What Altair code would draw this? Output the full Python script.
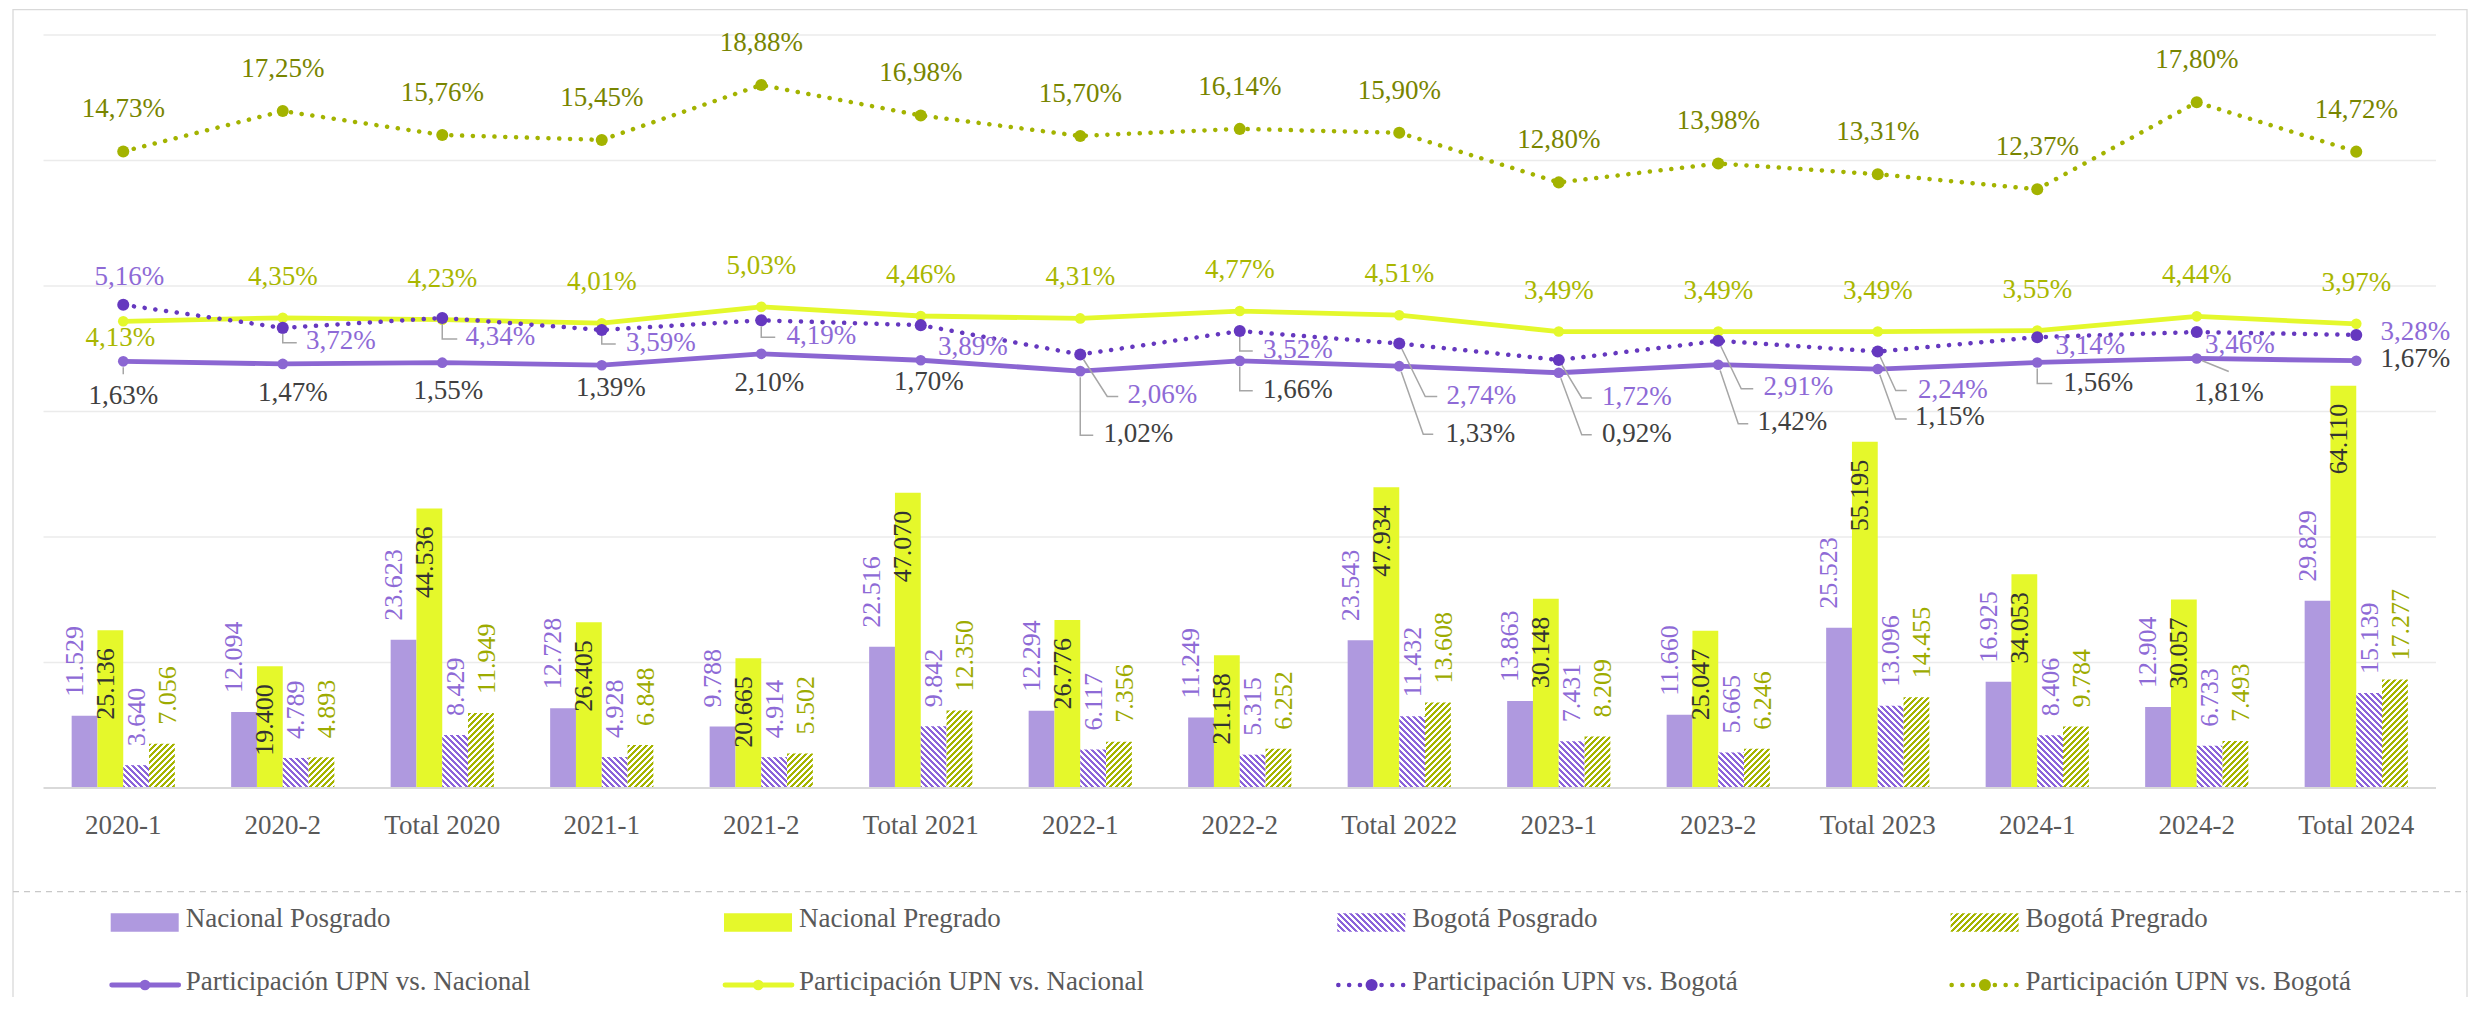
import altair as alt

# ------------------------------------------------------------------ data
categories = ["2020-1", "2020-2", "Total 2020", "2021-1", "2021-2", "Total 2021",
              "2022-1", "2022-2", "Total 2022", "2023-1", "2023-2", "Total 2023",
              "2024-1", "2024-2", "Total 2024"]

nacional_posgrado = [11529, 12094, 23623, 12728, 9788, 22516, 12294, 11249, 23543,
                     13863, 11660, 25523, 16925, 12904, 29829]
nacional_pregrado = [25136, 19400, 44536, 26405, 20665, 47070, 26776, 21158, 47934,
                     30148, 25047, 55195, 34053, 30057, 64110]
bogota_posgrado = [3640, 4789, 8429, 4928, 4914, 9842, 6117, 5315, 11432,
                   7431, 5665, 13096, 8406, 6733, 15139]
bogota_pregrado = [7056, 4893, 11949, 6848, 5502, 12350, 7356, 6252, 13608,
                   8209, 6246, 14455, 9784, 7493, 17277]

# participation (%)
part_nac_posgrado = [1.63, 1.47, 1.55, 1.39, 2.10, 1.70, 1.02, 1.66, 1.33, 0.92, 1.42, 1.15, 1.56, 1.81, 1.67]
part_nac_pregrado = [4.13, 4.35, 4.23, 4.01, 5.03, 4.46, 4.31, 4.77, 4.51, 3.49, 3.49, 3.49, 3.55, 4.44, 3.97]
part_bog_posgrado = [5.16, 3.72, 4.34, 3.59, 4.19, 3.89, 2.06, 3.52, 2.74, 1.72, 2.91, 2.24, 3.14, 3.46, 3.28]
part_bog_pregrado = [14.73, 17.25, 15.76, 15.45, 18.88, 16.98, 15.70, 16.14, 15.90, 12.80, 13.98, 13.31, 12.37, 17.80, 14.72]

bar_series = ["Nacional Posgrado", "Nacional Pregrado", "Bogotá Posgrado", "Bogotá Pregrado"]
line_series = ["Participación UPN vs. Nacional", "Participación UPN vs. Nacional",
               "Participación UPN vs. Bogotá", "Participación UPN vs. Bogotá"]
bar_gridlines = [20000, 40000, 60000, 80000, 100000, 120000]

# ------------------------------------------------------------------ layout / style
FONT = "Liberation Serif"
SCREEN_LEFT, SCREEN_TOP = 13.0, 9.0
VIEW_W, VIEW_H = 2454, 988
PLOT_X0_S = 43.5
STEP = 159.5
PLOT_TOP_S, PLOT_BOTTOM_S = 35.0, 788.0
BAR_AXIS_MAX = 120000.0
PCT_MIN, PCT_MAX = -25.0, 22.0
BAR_W = 25.8


def vx(sx):
    return sx - SCREEN_LEFT


def vy(sy):
    return sy - SCREEN_TOP


n = len(categories)
plot_top, plot_bottom = vy(PLOT_TOP_S), vy(PLOT_BOTTOM_S)
plot_h = plot_bottom - plot_top
bar_per_px = BAR_AXIS_MAX / plot_h
pct_per_px = (PCT_MAX - PCT_MIN) / plot_h
bar_domain = [-(VIEW_H - plot_bottom) * bar_per_px, BAR_AXIS_MAX + plot_top * bar_per_px]
pct_domain = [PCT_MIN - (VIEW_H - plot_bottom) * pct_per_px, PCT_MAX + plot_top * pct_per_px]
plot_x0 = vx(PLOT_X0_S)
idx_domain = [-plot_x0 / STEP - 0.5, (VIEW_W - plot_x0) / STEP - 0.5]

# band scale: bandwidth = 6 bar widths (4 bars + one bar of outer padding each side)
band_w = 6 * BAR_W
p_in = 1 - band_w / STEP
p_out = (VIEW_W / STEP - n + p_in) / 2
first_band = plot_x0 + (STEP - band_w) / 2
x_align = first_band / (VIEW_W - STEP * (n - p_in))

x_band = alt.Scale(domain=categories, paddingInner=p_in, paddingOuter=p_out, align=x_align)
off_scale = alt.Scale(domain=bar_series, paddingInner=0, paddingOuter=1)
bar_y = alt.Scale(domain=bar_domain, nice=False, zero=False)
pct_y = alt.Scale(domain=pct_domain, nice=False, zero=False)
idx_x = alt.Scale(domain=idx_domain, nice=False, zero=False)

C_NAC_POS = "#AF99DF"
C_NAC_PRE = "#E5F82B"
C_BOG_POS = "#8C64DA"
C_BOG_PRE = "#A5B400"
GRAY_TXT = "#595959"


def hatch(w, h, color, rising, period=6.0, bg="#FFFFFF"):
    """Diagonal stripes (45deg on screen) as a linear gradient for a w x h box."""
    h = max(h, 0.5)
    L = w + h
    s = L * w / (w * w + h * h)
    if rising:
        x1, y1, x2, y2 = 0, 0, s, s * h / w
    else:
        x1, y1, x2, y2 = 0, 1, s, 1 - s * h / w
    st = period / L
    stops = []
    t = 0.0
    while t < 1:
        a = t
        b = min(t + st / 2, 1)
        c = min(t + st, 1)
        stops += [{"offset": a, "color": color}, {"offset": b, "color": color},
                  {"offset": b, "color": bg}, {"offset": c, "color": bg}]
        t += st
    return {"gradient": "linear", "x1": x1, "y1": y1, "x2": x2, "y2": y2, "stops": stops}


def num_text(v):
    return f"{v:,}".replace(",", ".")


def pct_text(v):
    return f"{v:.2f}".replace(".", ",") + "%"


# ------------------------------------------------------------------ bars
bar_values = [nacional_posgrado, nacional_pregrado, bogota_posgrado, bogota_pregrado]
bar_paint = [C_NAC_POS, C_NAC_PRE, (C_BOG_POS, False), (C_BOG_PRE, True)]
bar_label_color = ["#8E6AD6", "#333333", "#8E6AD6", "#9DAB00"]

bar_records = []
for s, (name, vals) in enumerate(zip(bar_series, bar_values)):
    for c, v in zip(categories, vals):
        p = bar_paint[s]
        paint = p if isinstance(p, str) else hatch(BAR_W, v / bar_per_px, p[0], p[1])
        bar_records.append({"cat": c, "series": name, "value": v, "paint": paint,
                            "label": num_text(v), "lc": bar_label_color[s]})

X_CAT = alt.X("cat:N", scale=x_band, axis=None)
X_OFF = alt.XOffset("series:N", scale=off_scale)
Y_BAR = alt.Y("value:Q", scale=bar_y, axis=None)

bars = alt.Chart(alt.Data(values=bar_records)).mark_bar().encode(
    x=alt.X("cat:N", scale=x_band, title=None,
            axis=alt.Axis(orient="bottom", offset=plot_bottom - VIEW_H, domain=False, ticks=False,
                          tickSize=0, grid=False, labelAngle=0, labelFont=FONT, labelFontSize=27,
                          labelColor=GRAY_TXT, labelPadding=24, labelOverlap=False)),
    xOffset=X_OFF,
    y=Y_BAR,
    y2=alt.datum(0),
    fill=alt.Fill("paint:N", scale=None, legend=None),
)

bar_lab_out = alt.Chart(alt.Data(values=[r for r in bar_records if r["series"] != bar_series[1]])).mark_text(
    angle=270, align="left", baseline="middle", dx=19, dy=-2, font=FONT, fontSize=26
).encode(x=X_CAT, xOffset=X_OFF, y=Y_BAR, text="label:N",
         color=alt.Color("lc:N", scale=None, legend=None))

bar_lab_in = alt.Chart(alt.Data(values=[r for r in bar_records if r["series"] == bar_series[1]])).mark_text(
    angle=270, align="right", baseline="middle", dx=-18, dy=-2, font=FONT, fontSize=26
).encode(x=X_CAT, xOffset=X_OFF, y=Y_BAR, text="label:N",
         color=alt.Color("lc:N", scale=None, legend=None))

# ------------------------------------------------------------------ grid, baseline, frame
grid = alt.Chart(alt.Data(values=[{"g": g} for g in bar_gridlines])).mark_rule(
    color="#EBEBEB", strokeWidth=1.3
).encode(y=alt.Y("g:Q", scale=bar_y, axis=None),
         x=alt.XDatum(-0.5, type="quantitative", scale=idx_x, axis=None),
         x2=alt.X2Datum(n - 0.5))

baseline = alt.Chart(alt.Data(values=[{"g": 0}])).mark_rule(
    color="#D9D9D9", strokeWidth=2.2
).encode(y=alt.Y("g:Q", scale=bar_y, axis=None),
         x=alt.XDatum(-0.5, type="quantitative", scale=idx_x, axis=None),
         x2=alt.X2Datum(n - 0.5))

one = alt.Data(values=[{}])
frame_top = alt.Chart(one).mark_rule(color="#D9D9D9", strokeWidth=1.3).encode(
    x=alt.value(0), x2=alt.value(VIEW_W), y=alt.value(0.7))
frame_left = alt.Chart(one).mark_rule(color="#D9D9D9", strokeWidth=1.3).encode(
    x=alt.value(0), y=alt.value(0), y2=alt.value(VIEW_H))
frame_right = alt.Chart(one).mark_rule(color="#D9D9D9", strokeWidth=1.3).encode(
    x=alt.value(VIEW_W), y=alt.value(0), y2=alt.value(VIEW_H))
separator = alt.Chart(one).mark_rule(color="#C8C8C8", strokeWidth=1.3, strokeDash=[6, 5]).encode(
    x=alt.value(0), x2=alt.value(VIEW_W), y=alt.value(vy(891.7)))

# ------------------------------------------------------------------ lines
DOT = [0.1, 10.7]
lines_spec = [
    dict(vals=part_nac_posgrado, color="#8B66D2", width=4.8, dash=None, size=113, lcolor="#404040",
         offs=[(0, 35), (10, 29), (6, 28), (9, 23), (8, 29), (8, 22), (58, 63), (58, 29), (81, 68),
               (78, 61), (74, 57), (72, 48), (61, 21), (32, 35), (59, -2)],
         leaders={0: [(0, 0), (0, 13)], 6: [(0, 0), (0, 64), (13, 64)], 7: [(0, 0), (0, 30), (13, 30)],
                  8: [(0, 0), (24, 68), (34, 68)], 9: [(0, 0), (23, 62), (33, 62)],
                  10: [(0, 0), (20, 59), (30, 59)], 11: [(0, 0), (18, 50), (29, 50)],
                  12: [(0, 0), (0, 21), (15, 21)], 13: [(0, 0), (32, 13)]}),
    dict(vals=part_nac_pregrado, color="#E4F82C", width=4.8, dash=None, size=113, lcolor="#A9B700",
         offs=[(-3, 17)] + [(0, -41)] * 14, leaders={}),
    dict(vals=part_bog_posgrado, color="#6538BF", width=4.5, dash=DOT, size=145, lcolor="#8E6AD6",
         offs=[(6, -28), (58, 13), (58, 19), (59, 13), (60, 16), (52, 22), (82, 41), (58, 19), (82, 52),
               (78, 37), (80, 46), (75, 38), (53, 9), (43, 13), (59, -3)],
         leaders={1: [(0, 0), (0, 15), (14, 15)], 2: [(0, 0), (0, 21), (15, 21)],
                  3: [(0, 0), (0, 14), (14, 14)], 4: [(0, 0), (0, 17), (14, 17)],
                  6: [(0, 0), (27, 42), (38, 42)], 7: [(0, 0), (0, 20), (13, 20)],
                  8: [(0, 0), (26, 53), (38, 53)], 9: [(0, 0), (23, 38), (33, 38)],
                  10: [(0, 0), (23, 48), (35, 48)], 11: [(0, 0), (18, 39), (29, 39)]}),
    dict(vals=part_bog_pregrado, color="#A3B300", width=4.5, dash=DOT, size=145, lcolor="#788500",
         offs=[(0, -42)] * 15, leaders={}),
]


def X_Q(f):
    return alt.X(f"{f}:Q", scale=idx_x, axis=None)


def Y_Q(f):
    return alt.Y(f"{f}:Q", scale=pct_y, axis=None)


line_layers = []
label_records = []
leader_records = []
for k, spec in enumerate(lines_spec):
    pts = [{"idx": i, "v": v} for i, v in enumerate(spec["vals"])]
    lkw = dict(color=spec["color"], strokeWidth=spec["width"], strokeCap="round", strokeJoin="round")
    if spec["dash"]:
        lkw["strokeDash"] = spec["dash"]
    line_layers.append(alt.Chart(alt.Data(values=pts)).mark_line(**lkw).encode(x=X_Q("idx"), y=Y_Q("v")))
    line_layers.append(alt.Chart(alt.Data(values=pts)).mark_circle(
        size=spec["size"], color=spec["color"], opacity=1).encode(x=X_Q("idx"), y=Y_Q("v")))
    for i, v in enumerate(spec["vals"]):
        dx, dy = spec["offs"][i]
        label_records.append({"lx": i + dx / STEP, "ly": v - dy * pct_per_px,
                              "t": pct_text(v), "c": spec["lcolor"]})
        if i in spec["leaders"]:
            path = spec["leaders"][i]
            ex, ey = path[1]
            d = (ex * ex + ey * ey) ** 0.5
            path = [(ex * 6 / d, ey * 6 / d)] + path[1:]
            for j, (ox, oy) in enumerate(path):
                leader_records.append({"lid": f"{k}-{i}", "o": j, "lx": i + ox / STEP,
                                       "ly": v - oy * pct_per_px})

leaders = alt.Chart(alt.Data(values=leader_records)).mark_line(
    color="#A6A6A6", strokeWidth=1.5).encode(
    x=X_Q("lx"), y=Y_Q("ly"), detail="lid:N", order=alt.Order("o:Q"))

pct_labels = alt.Chart(alt.Data(values=label_records)).mark_text(
    font=FONT, fontSize=27, align="center", baseline="middle").encode(
    x=X_Q("lx"), y=Y_Q("ly"), text="t:N", color=alt.Color("c:N", scale=None, legend=None))

# ------------------------------------------------------------------ legend
LEG_X0_S, LEG_DX = 110.7, 613.3
leg_x = [vx(LEG_X0_S + LEG_DX * k) for k in range(4)]
row1_y, row1_base = vy(922.5), vy(926.7)
row2_y, row2_base = vy(985.0), vy(990.0)
SW_W, SW_H = 68.0, 18.4

swatch_records = []
for k in range(4):
    p = bar_paint[k]
    paint = p if isinstance(p, str) else hatch(SW_W, SW_H, p[0], p[1])
    swatch_records.append({"x": leg_x[k], "x2": leg_x[k] + SW_W, "y": row1_y - SW_H / 2,
                           "y2": row1_y + SW_H / 2, "paint": paint})

PX_X = alt.X("x:Q", scale=None, axis=None)
PX_Y = alt.Y("y:Q", scale=None, axis=None)

leg_swatches = alt.Chart(alt.Data(values=swatch_records)).mark_rect().encode(
    x=PX_X, x2="x2:Q", y=PX_Y, y2="y2:Q", fill=alt.Fill("paint:N", scale=None, legend=None))

text_records = ([{"x": leg_x[k] + 75, "y": row1_base, "t": bar_series[k]} for k in range(4)] +
                [{"x": leg_x[k] + 75, "y": row2_base, "t": line_series[k]} for k in range(4)])
leg_text = alt.Chart(alt.Data(values=text_records)).mark_text(
    font=FONT, fontSize=27, align="left", baseline="alphabetic", color=GRAY_TXT).encode(
    x=PX_X, y=PX_Y, text="t:N")

leg_lines = []
for k, spec in enumerate(lines_spec):
    rkw = dict(color=spec["color"], strokeWidth=spec["width"], strokeCap="round")
    if spec["dash"]:
        rkw["strokeDash"] = spec["dash"]
    seg = [{"x": leg_x[k] + 1, "x2": leg_x[k] + 68, "y": row2_y, "m": leg_x[k] + 34.3}]
    leg_lines.append(alt.Chart(alt.Data(values=seg)).mark_rule(**rkw).encode(
        x=PX_X, x2="x2:Q", y=PX_Y))
    leg_lines.append(alt.Chart(alt.Data(values=seg)).mark_circle(
        size=spec["size"], color=spec["color"], opacity=1).encode(
        x=alt.X("m:Q", scale=None, axis=None), y=PX_Y))

# ------------------------------------------------------------------ assemble
layers = ([frame_top, frame_left, frame_right, separator, grid, bars, baseline,
           bar_lab_out, bar_lab_in] + line_layers + [leaders, pct_labels,
           leg_swatches, leg_text] + leg_lines)

chart = alt.layer(*layers).resolve_scale(
    x="independent", y="independent", xOffset="independent"
).properties(
    width=VIEW_W, height=VIEW_H,
    padding={"left": SCREEN_LEFT - 8, "top": SCREEN_TOP - 8, "right": 2, "bottom": 0},
    autosize=alt.AutoSizeParams(type="none"),
).configure_view(stroke=None)

chart.save("out.html", embed_options={"renderer": "svg", "actions": False})
